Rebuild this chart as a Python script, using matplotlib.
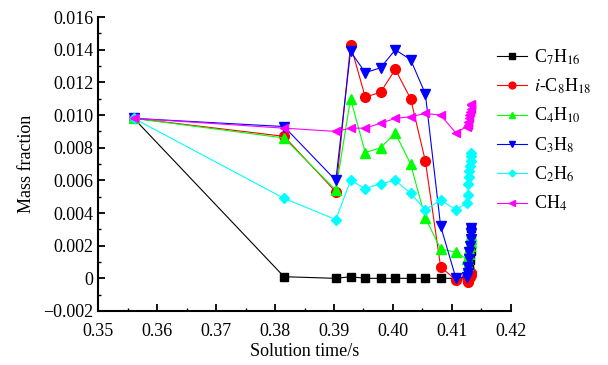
import matplotlib
matplotlib.use("Agg")
import matplotlib.pyplot as plt
from matplotlib.ticker import MultipleLocator, FuncFormatter

plt.rcParams['font.family'] = ['Liberation Serif', 'DejaVu Serif']
plt.rcParams['mathtext.fontset'] = 'stix'

# -----------------------
# DATA
# -----------------------
t_main = [0.3560, 0.3815, 0.3903, 0.3928, 0.3953, 0.3979,
          0.4004, 0.4030, 0.4055, 0.4081, 0.4107, 0.4125]
t_tail = [0.4127, 0.4128, 0.4129, 0.4130, 0.4131, 0.4132, 0.4133, 0.4133]

c7h16 = [0.0098, 0.0001, 0.0000, 0.0001, 0.0000, 0.0000,
         0.0000, 0.0000, 0.0000, 0.0000, 0.0000, 0.0000]
c7h16_tail = [0.0000, 0.0002, 0.0005, 0.0008, 0.0011, 0.0017, 0.0024, 0.0031]

ic8h18 = [0.0098, 0.0087, 0.0053, 0.0143, 0.0111, 0.0114,
          0.0128, 0.0110, 0.0072, 0.0007, -0.0001, 0.0001]
ic8h18_tail = [-0.0002, -0.0001, 0.0000, 0.0001, 0.0001, 0.0002, 0.0003, 0.0003]

c4h10 = [0.0098, 0.0086, 0.0054, 0.0110, 0.0077, 0.0080,
         0.0089, 0.0070, 0.0037, 0.0018, 0.0016, 0.0012]
c4h10_tail = [0.0008, 0.0012, 0.0015, 0.0018, 0.0020, 0.0022, 0.0024, 0.0026]

c3h8 = [0.0098, 0.0093, 0.0060, 0.0139, 0.0126, 0.0129,
        0.0140, 0.0134, 0.0113, 0.0032, 0.0000, 0.0001]
c3h8_tail = [0.0003, 0.0007, 0.0012, 0.0016, 0.0020, 0.0024, 0.0028, 0.0031]

c2h6 = [0.0098, 0.0049, 0.0036, 0.0060, 0.0055, 0.0058,
        0.0060, 0.0052, 0.0042, 0.0048, 0.0042, 0.0046]
c2h6_tail = [0.0051, 0.0058, 0.0062, 0.0066, 0.0069, 0.0072, 0.0075, 0.0077]

ch4 = [0.0098, 0.0092, 0.0090, 0.0092, 0.0092, 0.0095,
       0.0098, 0.0099, 0.0101, 0.0100, 0.0089, 0.0093]
ch4_tail = [0.0094, 0.0096, 0.0098, 0.0100, 0.0102, 0.0104, 0.0106, 0.0107]

labels = [r'C$_7$H$_{16}$', r'$i$-C$_8$H$_{18}$', r'C$_4$H$_{10}$',
          r'C$_3$H$_8$', r'C$_2$H$_6$', r'CH$_4$']

# -----------------------
# PLOT
# -----------------------
fig = plt.figure(figsize=(6.08, 3.65), dpi=100)
ax = fig.add_axes([0.162, 0.148, 0.678, 0.805])

series = [
    (c7h16, c7h16_tail, 'black', 's', 5.5),
    (ic8h18, ic8h18_tail, 'red', 'o', 7),
    (c4h10, c4h10_tail, '#00ff00', '^', 6.5),
    (c3h8, c3h8_tail, 'blue', 'v', 6.5),
    (c2h6, c2h6_tail, 'cyan', 'D', 5),
    (ch4, ch4_tail, 'magenta', '<', 6),
]

handles = []
for (main, tail, col, mk, ms), lab in zip(series, labels):
    h, = ax.plot(t_main + t_tail, main + tail, color=col, marker=mk,
                 markersize=ms, linewidth=0.8, label=lab)
    handles.append(h)

ax.set_xlim(0.35, 0.42)
ax.set_ylim(-0.002, 0.016)
ax.xaxis.set_major_locator(MultipleLocator(0.01))
ax.xaxis.set_minor_locator(MultipleLocator(0.005))
ax.yaxis.set_major_locator(MultipleLocator(0.002))
ax.yaxis.set_minor_locator(MultipleLocator(0.001))
ax.xaxis.set_major_formatter(FuncFormatter(lambda v, p: f"{v:.2f}"))
ax.yaxis.set_major_formatter(
    FuncFormatter(lambda v, p: "0" if abs(v) < 1e-9 else f"{v:.3f}".replace("-", "\u2212")))

for s in ['top', 'right']:
    ax.spines[s].set_visible(False)
for s in ['left', 'bottom']:
    ax.spines[s].set_linewidth(1.5)
ax.tick_params(which='major', direction='in', length=5, width=1.3, labelsize=13)
ax.tick_params(which='minor', direction='in', length=2.5, width=1.0)
ax.tick_params(axis='x', which='major', pad=9)

ax.set_xlabel("Solution time/s", fontsize=13, labelpad=2)
ax.set_ylabel("Mass fraction", fontsize=13, labelpad=6)

fig.legend(handles=handles, loc='upper left', bbox_to_anchor=(0.79, 0.915),
           frameon=False, fontsize=13, handlelength=1.7, handletextpad=0.4,
           labelspacing=0.55, markerscale=0.7)

fig.savefig("out.png", dpi=100)
